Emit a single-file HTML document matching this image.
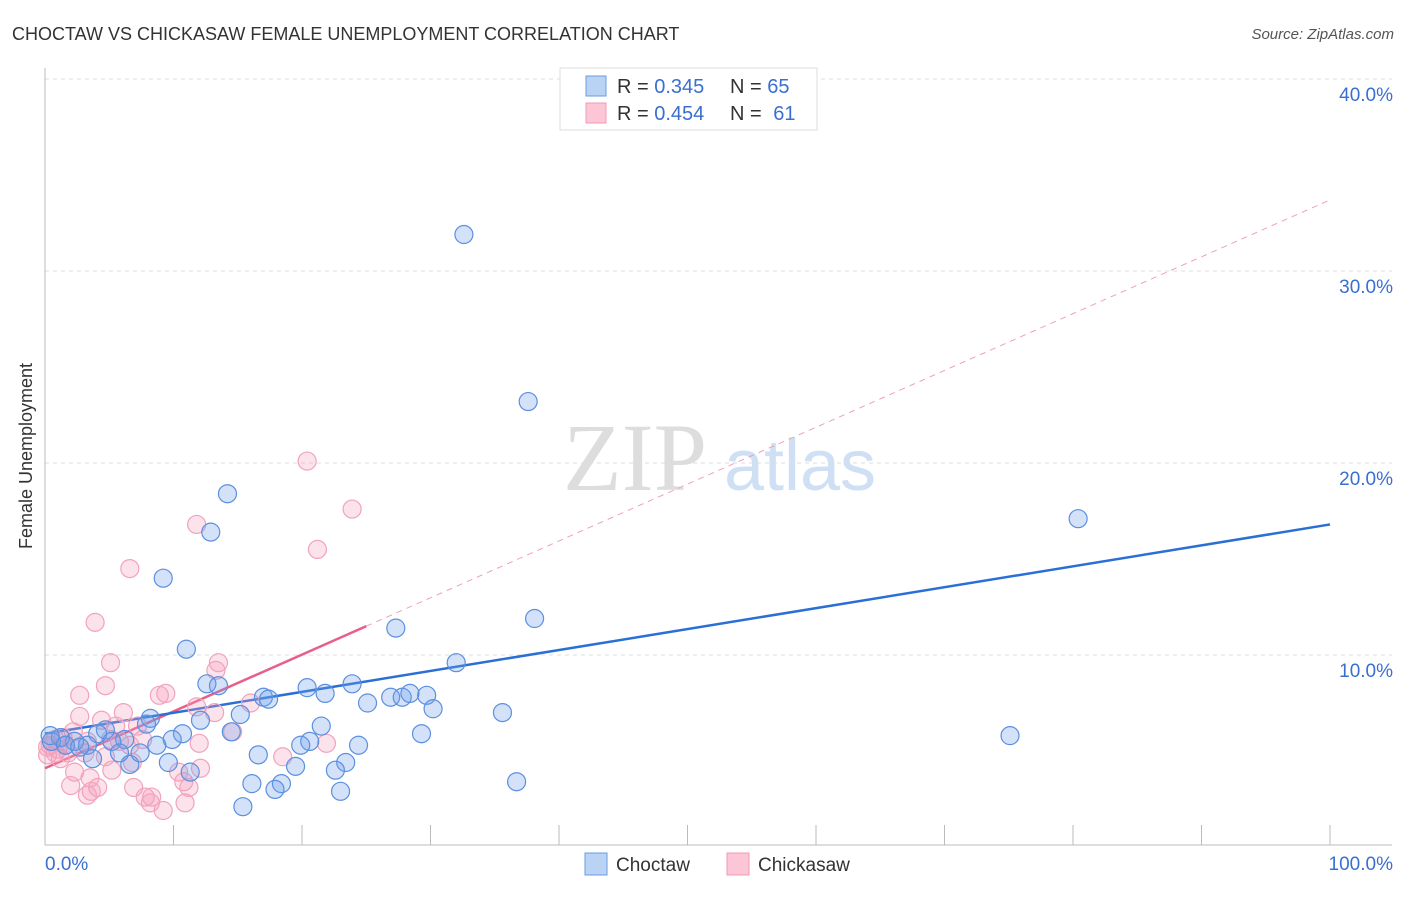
<!DOCTYPE html>
<html><head><meta charset="utf-8"><style>
body{margin:0;background:#fff;font-family:"Liberation Sans",sans-serif;}
svg text{font-family:"Liberation Sans",sans-serif;}
</style></head><body>
<svg id="chart" width="1406" height="892" xmlns="http://www.w3.org/2000/svg">
<text x="12" y="40" font-size="18" fill="#333">CHOCTAW VS CHICKASAW FEMALE UNEMPLOYMENT CORRELATION CHART</text>
<text x="1394" y="39" font-size="15" fill="#555" text-anchor="end" font-style="italic">Source: ZipAtlas.com</text>
<text x="32" y="456" font-size="18" fill="#333" text-anchor="middle" transform="rotate(-90 32 456)">Female Unemployment</text>
<g>
<text x="635" y="490" font-size="96" fill="#ddd" text-anchor="middle" font-family="Liberation Serif" style="font-family:'Liberation Serif',serif">ZIP</text>
<text x="800" y="490" font-size="72" fill="#cfe0f5" text-anchor="middle">atlas</text>
</g>
<g id="grid"></g><g id="axes"></g><g id="trends"></g><g id="points"></g>
<g>
<rect x="560" y="68" width="257" height="62" fill="#fff" stroke="#ddd"/>
<rect x="586" y="76" width="20" height="20" fill="#b9d3f5" stroke="#6a9be0"/>
<rect x="586" y="103" width="20" height="20" fill="#fcc6d6" stroke="#f09ab5"/>
<text x="617" y="93" font-size="20" fill="#333">R = <tspan fill="#3a6fd0">0.345</tspan></text>
<text x="730" y="93" font-size="20" fill="#333">N = <tspan fill="#3a6fd0">65</tspan></text>
<text x="617" y="120" font-size="20" fill="#333">R = <tspan fill="#3a6fd0">0.454</tspan></text>
<text x="730" y="120" font-size="20" fill="#333">N = <tspan fill="#3a6fd0" dx="6">61</tspan></text>
</g>
<g>
<rect x="585" y="853" width="22" height="22" fill="#b9d3f5" stroke="#6a9be0"/>
<text x="616" y="871" font-size="19" fill="#333">Choctaw</text>
<rect x="727" y="853" width="22" height="22" fill="#fcc6d6" stroke="#f09ab5"/>
<text x="758" y="871" font-size="19" fill="#333">Chickasaw</text>
</g>
</svg>
<script>
const yTicks=[10,20,30,40];
const yTickLabels=["10.0%","20.0%","30.0%","40.0%"];
const xTicks=[0,10,20,30,40,50,60,70,80,90,100];
const choctawX=[32.6,37.6,14.2,12.9,9.2,80.4,38.1,27.3,11.0,32.0,12.6,13.5,17.0,17.4,20.4,21.8,23.9,25.1,26.9,27.8,28.4,29.7,30.2,35.6,8.2,15.2,12.1,10.7,7.9,4.7,4.1,75.1,29.3,21.5,20.6,19.9,14.5,9.9,8.7,6.2,5.2,3.3,2.3,1.2,0.5,0.4,24.4,16.6,23.4,22.6,19.5,11.3,9.6,6.6,5.8,3.7,36.7,16.1,18.4,17.9,23.0,15.4,7.4,1.6,2.7];
const choctawY=[31.9,23.2,18.4,16.4,14.0,17.1,11.9,11.4,10.3,9.6,8.5,8.4,7.8,7.7,8.3,8.0,8.5,7.5,7.8,7.8,8.0,7.9,7.2,7.0,6.7,6.9,6.6,5.9,6.4,6.1,5.9,5.8,5.9,6.3,5.5,5.3,6.0,5.6,5.3,5.6,5.5,5.3,5.5,5.7,5.5,5.8,5.3,4.8,4.4,4.0,4.2,3.9,4.4,4.3,4.9,4.6,3.4,3.3,3.3,3.0,2.9,2.1,4.9,5.3,5.2];
const chickasawX=[3.9,6.6,11.8,20.4,23.9,21.2,5.1,13.5,13.3,2.7,4.7,9.4,8.9,11.8,16.0,13.2,2.7,6.1,4.4,5.5,7.2,14.6,7.6,12.0,5.1,21.9,2.2,1.4,0.8,0.4,1.0,0.2,1.8,3.3,18.5,6.8,10.4,12.1,2.3,3.5,5.2,4.1,2.0,6.9,3.6,7.8,8.3,10.8,11.2,8.2,9.2,10.9,3.3,1.2,1.6,3.1,5.8,0.8,0.2,6.6,4.7];
const chickasawY=[11.7,14.5,16.8,20.1,17.6,15.5,9.6,9.6,9.2,7.9,8.4,8.0,7.9,7.3,7.5,7.0,6.8,7.0,6.6,6.3,6.3,6.0,5.6,5.4,5.6,5.4,6.0,5.7,5.6,5.3,5.1,4.8,4.9,5.5,4.7,4.4,3.9,4.1,3.9,3.6,4.0,3.1,3.2,3.1,2.9,2.6,2.6,3.4,3.1,2.3,1.9,2.3,2.7,4.6,5.3,4.9,5.5,4.9,5.2,5.3,4.7];
const choctawTrend=[5.9,16.8];
const chickasawTrend=[4.1,33.7];
const chickasawSolidEnd=25;
const NS="http://www.w3.org/2000/svg";
const X=v=>45+v*12.85, Y=v=>847-v*19.2;
function mk(tag,attrs,parent){const e=document.createElementNS(NS,tag);for(const k in attrs)e.setAttribute(k,attrs[k]);document.getElementById(parent).appendChild(e);return e;}
yTicks.forEach((t,i)=>{
 const l=mk('line',{x1:45,x2:1392,y1:Y(t),y2:Y(t),stroke:'#ddd','stroke-dasharray':'4,4'},'grid');
 
 
 const tx=mk('text',{x:1393,y:Y(t)+22,'font-size':19,fill:'#3a6fd0','text-anchor':'end'},'grid');
 tx.textContent=yTickLabels[i];
 
 
});
const ya=mk('line',{x1:45,x2:45,y1:68,y2:845,stroke:'#bbb'},'axes');


const xa=mk('line',{x1:45,x2:1392,y1:845,y2:845,stroke:'#bbb'},'axes');


xTicks.forEach(t=>{const l=mk('line',{x1:X(t),x2:X(t),y1:825,y2:845,stroke:'#bbb'},'axes');
 
 });
const x0=mk('text',{x:45,y:870,'font-size':19,fill:'#3a6fd0'},'axes');x0.textContent='0.0%';


const x1=mk('text',{x:1393,y:870,'font-size':19,fill:'#3a6fd0','text-anchor':'end'},'axes');x1.textContent='100.0%';


function pts(xs,ys,fill,stroke,name){xs.forEach((x,i)=>{const c=mk('circle',{cx:X(x),cy:Y(ys[i]),r:9,fill:fill,stroke:stroke,'stroke-width':1.2},'points');
 
 });}
pts(chickasawX,chickasawY,'rgba(245,160,190,0.3)','#f2a3bb','chickasaw-point');
pts(choctawX,choctawY,'rgba(110,160,235,0.3)','#5b8fe0','choctaw-point');
const pm=chickasawTrend[0]+(chickasawTrend[1]-chickasawTrend[0])*chickasawSolidEnd/100;
const pd=mk('line',{x1:X(chickasawSolidEnd),y1:Y(pm),x2:X(100),y2:Y(chickasawTrend[1]),stroke:'#f0a0b8','stroke-dasharray':'6,5','stroke-width':1},'trends');


const ps=mk('line',{x1:X(0),y1:Y(chickasawTrend[0]),x2:X(chickasawSolidEnd),y2:Y(pm),stroke:'#e8608a','stroke-width':2.5},'trends');


const bl=mk('line',{x1:X(0),y1:Y(choctawTrend[0]),x2:X(100),y2:Y(choctawTrend[1]),stroke:'#2a6fd6','stroke-width':2.5},'trends');


</script>
</body></html>
